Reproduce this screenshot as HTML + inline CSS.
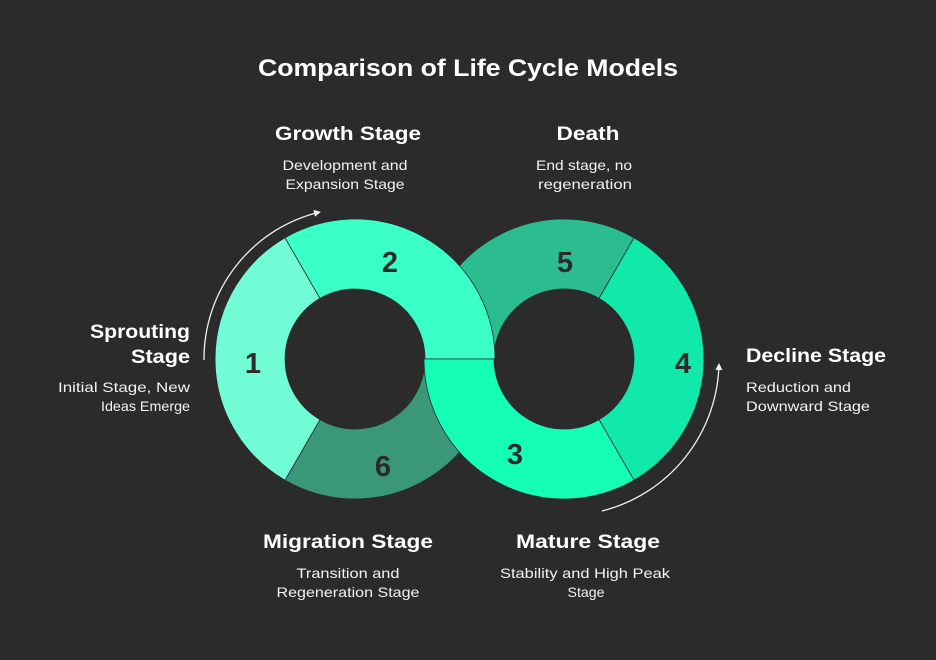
<!DOCTYPE html>
<html><head><meta charset="utf-8"><style>
html,body{margin:0;padding:0;background:#2b2b2b;}
svg{display:block;}
text{font-family:"Liberation Sans",sans-serif;}
</style></head><body>
<svg width="936" height="660" viewBox="0 0 936 660" xmlns="http://www.w3.org/2000/svg">
<defs>
<marker id="ah" markerWidth="8" markerHeight="8" refX="6" refY="4" orient="auto" markerUnits="userSpaceOnUse">
<path d="M0,0.5 L7,4 L0,7.5 Z" fill="#f0f0f0"/>
</marker>
</defs>
<rect width="936" height="660" fill="#2b2b2b"/>
<g stroke="#2b2b2b" stroke-width="0.8">
<path d="M634,237.8 A140,140 0 0 0 424,359 L494,359 A70,70 0 0 1 599,298.4 Z" fill="#2bbd90"/>
<path d="M285,480.2 A140,140 0 0 0 495,359 L425,359 A70,70 0 0 1 320,419.6 Z" fill="#3a977a"/>
<path d="M285,237.8 A140,140 0 0 0 285,480.2 L320,419.6 A70,70 0 0 1 320,298.4 Z" fill="#72fcd6"/>
<path d="M634,237.8 A140,140 0 0 1 634,480.2 L599,419.6 A70,70 0 0 0 599,298.4 Z" fill="#10e9a9"/>
<path d="M285,237.8 A140,140 0 0 1 495,359 L425,359 A70,70 0 0 0 320,298.4 Z" fill="#3affc6"/>
<path d="M424,359 A140,140 0 0 0 634,480.2 L599,419.6 A70,70 0 0 1 494,359 Z" fill="#14ffb5"/>
</g>
<path d="M204,360 A151,151 0 0 1 320,212" fill="none" stroke="#f0f0f0" stroke-width="1.3" marker-end="url(#ah)"/>
<path d="M602,511 A155,155 0 0 0 719,364" fill="none" stroke="#f0f0f0" stroke-width="1.3" marker-end="url(#ah)"/>
<g font-size="29" font-weight="bold" fill="#2b2b2b" text-anchor="middle">
<text x="253" y="373">1</text>
<text x="390" y="272">2</text>
<text x="565" y="272">5</text>
<text x="683" y="373">4</text>
<text x="515" y="464">3</text>
<text x="383" y="476">6</text>
</g>
<text x="468" y="76" font-size="24" font-weight="bold" fill="#fff" text-anchor="middle" textLength="420" lengthAdjust="spacingAndGlyphs">Comparison of Life Cycle Models</text>
<g font-size="19" font-weight="bold" fill="#fff">
<text x="348" y="140" text-anchor="middle" textLength="146" lengthAdjust="spacingAndGlyphs">Growth Stage</text>
<text x="588" y="140" text-anchor="middle" textLength="63" lengthAdjust="spacingAndGlyphs">Death</text>
<text x="190" y="338" text-anchor="end" textLength="100" lengthAdjust="spacingAndGlyphs">Sprouting</text>
<text x="190" y="363" text-anchor="end" textLength="59" lengthAdjust="spacingAndGlyphs">Stage</text>
<text x="746" y="362" textLength="140" lengthAdjust="spacingAndGlyphs">Decline Stage</text>
<text x="348" y="548" text-anchor="middle" textLength="170" lengthAdjust="spacingAndGlyphs">Migration Stage</text>
<text x="588" y="548" text-anchor="middle" textLength="144" lengthAdjust="spacingAndGlyphs">Mature Stage</text>
</g>
<g font-size="14" fill="#f2f2f2">
<text x="345" y="170" text-anchor="middle" textLength="125" lengthAdjust="spacingAndGlyphs">Development and</text>
<text x="345" y="189" text-anchor="middle" textLength="119" lengthAdjust="spacingAndGlyphs">Expansion Stage</text>
<text x="584" y="170" text-anchor="middle" textLength="96" lengthAdjust="spacingAndGlyphs">End stage, no</text>
<text x="585" y="189" text-anchor="middle" textLength="94" lengthAdjust="spacingAndGlyphs">regeneration</text>
<text x="190" y="392" text-anchor="end" textLength="132" lengthAdjust="spacingAndGlyphs">Initial Stage, New</text>
<text x="190" y="411" text-anchor="end" textLength="89" lengthAdjust="spacingAndGlyphs">Ideas Emerge</text>
<text x="746" y="392" textLength="105" lengthAdjust="spacingAndGlyphs">Reduction and</text>
<text x="746" y="411" textLength="124" lengthAdjust="spacingAndGlyphs">Downward Stage</text>
<text x="348" y="578" text-anchor="middle" textLength="103" lengthAdjust="spacingAndGlyphs">Transition and</text>
<text x="348" y="597" text-anchor="middle" textLength="143" lengthAdjust="spacingAndGlyphs">Regeneration Stage</text>
<text x="585" y="578" text-anchor="middle" textLength="170" lengthAdjust="spacingAndGlyphs">Stability and High Peak</text>
<text x="586" y="597" text-anchor="middle" textLength="37" lengthAdjust="spacingAndGlyphs">Stage</text>
</g>
</svg>
</body></html>
